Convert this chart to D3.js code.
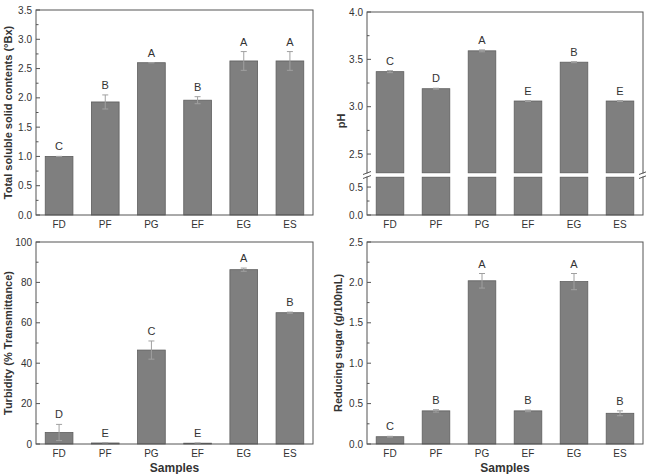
<!DOCTYPE html>
<html>
<head>
<meta charset="utf-8">
<script src="https://cdn.jsdelivr.net/npm/d3@7"></script>
<style>
    body { margin: 0; background: #fff; }
    svg text { font-family: "Liberation Sans", Arial, sans-serif; fill: #333; }
</style>
</head>
<body>
<div id="chart"></div>
<script>
"use strict";

// samples on the x axis (same for every panel)
const samples = ["FD", "PF", "PG", "EF", "EG", "ES"];

// total soluble solids (°Bx)
const tssValues = [1.00, 1.93, 2.60, 1.96, 2.63, 2.63];
const tssErrors = [0.00, 0.12, 0.00, 0.06, 0.16, 0.16];
const tssLetters = ["C", "B", "A", "B", "A", "A"];
const tssTicks = [0, 0.5, 1.0, 1.5, 2.0, 2.5, 3.0, 3.5];

// pH
const phValues = [3.37, 3.19, 3.59, 3.06, 3.47, 3.06];
const phErrors = [0.01, 0.005, 0.01, 0.005, 0.005, 0.005];
const phLetters = ["C", "D", "A", "E", "B", "E"];
const phTicksLow = [0, 0.5];
const phTicksHigh = [2.5, 3.0, 3.5, 4.0];

// turbidity (% transmittance)
const turbValues = [5.7, 0.5, 46.5, 0.4, 86.3, 65.0];
const turbErrors = [4.0, 0.1, 4.5, 0.1, 0.8, 0.3];
const turbLetters = ["D", "E", "C", "E", "A", "B"];
const turbTicks = [0, 20, 40, 60, 80, 100];

// reducing sugar (g/100mL)
const sugarValues = [0.09, 0.41, 2.02, 0.41, 2.01, 0.38];
const sugarErrors = [0.005, 0.015, 0.09, 0.01, 0.10, 0.03];
const sugarLetters = ["C", "B", "A", "B", "A", "B"];
const sugarTicks = [0, 0.5, 1.0, 1.5, 2.0, 2.5];

const barColor = "#7f7f7f";
const barStroke = "#5e5e5e";
const errColor = "#a0a0a0";
const axisColor = "#555";

const svg = d3.select("#chart").append("svg")
    .attr("width", 646)
    .attr("height", 474);

// draw ticks on the left axis, pointing inside the box
function drawTicks(g, y, x0, major, minor, fmt) {
    g.selectAll(null).data(major).enter().append("line")
        .attr("x1", x0).attr("x2", x0 + 4)
        .attr("y1", d => y(d)).attr("y2", d => y(d))
        .attr("stroke", axisColor);
    g.selectAll(null).data(minor).enter().append("line")
        .attr("x1", x0).attr("x2", x0 + 2.5)
        .attr("y1", d => y(d)).attr("y2", d => y(d))
        .attr("stroke", axisColor);
    g.selectAll(null).data(major).enter().append("text")
        .attr("x", x0 - 4)
        .attr("y", d => y(d))
        .attr("dy", "0.35em")
        .attr("text-anchor", "end")
        .style("font-size", "10px")
        .text(fmt);
}

function drawBox(g, box) {
    g.append("rect")
        .attr("x", box.left).attr("y", box.top)
        .attr("width", box.right - box.left)
        .attr("height", box.bottom - box.top)
        .attr("fill", "none")
        .attr("stroke", axisColor)
        .attr("stroke-width", 1);
}

function drawCategories(g, x, box) {
    g.selectAll(null).data(samples).enter().append("text")
        .attr("x", d => x(d) + x.bandwidth() / 2)
        .attr("y", box.bottom + 13)
        .attr("text-anchor", "middle")
        .style("font-size", "10px")
        .text(d => d);
}

function drawYTitle(g, text, xPos, midY) {
    g.append("text")
        .attr("transform", "translate(" + xPos + "," + midY + ") rotate(-90)")
        .attr("text-anchor", "middle")
        .style("font-size", "11px")
        .style("font-weight", "bold")
        .text(text);
}

function drawErrorsAndLetters(g, x, y, values, errors, letters) {
    const cx = i => x(samples[i]) + x.bandwidth() / 2;
    const idx = d3.range(samples.length);
    g.selectAll(null).data(idx).enter().append("line")
        .attr("x1", cx).attr("x2", cx)
        .attr("y1", i => y(values[i] - errors[i]))
        .attr("y2", i => y(values[i] + errors[i]))
        .attr("stroke", errColor);
    ["-", "+"].forEach(sign => {
        g.selectAll(null).data(idx).enter().append("line")
            .attr("x1", i => cx(i) - 3).attr("x2", i => cx(i) + 3)
            .attr("y1", i => y(sign == "+" ? values[i] + errors[i] : values[i] - errors[i]))
            .attr("y2", i => y(sign == "+" ? values[i] + errors[i] : values[i] - errors[i]))
            .attr("stroke", errColor);
    });
    g.selectAll(null).data(idx).enter().append("text")
        .attr("x", cx)
        .attr("y", i => y(values[i] + errors[i]) - 6)
        .attr("text-anchor", "middle")
        .style("font-size", "11px")
        .text(i => letters[i]);
}

// a simple bar panel with a linear y axis
function simplePanel(opts) {
    const box = opts.box;
    const g = svg.append("g");
    const x = d3.scaleBand().domain(samples)
        .range([box.left, box.right]).paddingInner(0.4).paddingOuter(0.2);
    const y = d3.scaleLinear().domain(opts.domain).range([box.bottom, box.top]);

    g.selectAll(null).data(opts.values).enter().append("rect")
        .attr("x", (d, i) => x(samples[i]))
        .attr("y", d => y(d))
        .attr("width", x.bandwidth())
        .attr("height", d => y(0) - y(d))
        .attr("fill", barColor)
        .attr("stroke", barStroke)
        .attr("stroke-width", 0.8);

    drawErrorsAndLetters(g, x, y, opts.values, opts.errors, opts.letters);
    drawBox(g, box);
    const minor = opts.ticks.slice(0, -1).map((t, i) => (t + opts.ticks[i + 1]) / 2);
    drawTicks(g, y, box.left, opts.ticks, minor, opts.fmt);
    drawCategories(g, x, box);
    drawYTitle(g, opts.title, opts.titleX, (box.top + box.bottom) / 2);
    if (opts.xTitle) {
        g.append("text")
            .attr("x", (box.left + box.right) / 2)
            .attr("y", box.bottom + 28)
            .attr("text-anchor", "middle")
            .style("font-size", "12px")
            .style("font-weight", "bold")
            .text("Samples");
    }
}

// the pH panel has a broken y axis
function phPanel() {
    const box = {left: 367, right: 643, top: 12, bottom: 215};
    const gapTop = 173, gapBottom = 177;
    const g = svg.append("g");
    const x = d3.scaleBand().domain(samples)
        .range([box.left, box.right]).paddingInner(0.4).paddingOuter(0.2);
    const yHigh = d3.scaleLinear().domain([2.3, 4.0]).range([gapTop, box.top]);
    const yLow = d3.scaleLinear().domain([0, 0.68]).range([box.bottom, gapBottom]);

    // lower piece of every bar
    g.selectAll(null).data(phValues).enter().append("rect")
        .attr("x", (d, i) => x(samples[i]))
        .attr("y", yLow(0.68))
        .attr("width", x.bandwidth())
        .attr("height", yLow(0) - yLow(0.68))
        .attr("fill", barColor)
        .attr("stroke", barStroke)
        .attr("stroke-width", 0.8);
    // upper piece
    g.selectAll(null).data(phValues).enter().append("rect")
        .attr("x", (d, i) => x(samples[i]))
        .attr("y", d => yHigh(d))
        .attr("width", x.bandwidth())
        .attr("height", d => yHigh(2.3) - yHigh(d))
        .attr("fill", barColor)
        .attr("stroke", barStroke)
        .attr("stroke-width", 0.8);

    drawErrorsAndLetters(g, x, yHigh, phValues, phErrors, phLetters);
    drawBox(g, box);

    // white gap through the box for the break
    g.append("rect")
        .attr("x", box.left - 1).attr("y", gapTop + 0.5)
        .attr("width", box.right - box.left + 2)
        .attr("height", gapBottom - gapTop - 1)
        .attr("fill", "#fff");
    [box.left, box.right].forEach(xb => {
        [gapTop, gapBottom].forEach(yb => {
            g.append("line")
                .attr("x1", xb - 4).attr("x2", xb + 4)
                .attr("y1", yb + 1.5).attr("y2", yb - 1.5)
                .attr("stroke", axisColor);
        });
    });

    drawTicks(g, yHigh, box.left, phTicksHigh, [2.75, 3.25, 3.75], d => d3.format(".1f")(d));
    drawTicks(g, yLow, box.left, phTicksLow, [0.25], d => d3.format(".1f")(d));
    drawCategories(g, x, box);
    drawYTitle(g, "pH", 345, 121);
}

simplePanel({
    box: {left: 36, right: 313, top: 10, bottom: 215},
    domain: [0, 3.5], ticks: tssTicks,
    values: tssValues, errors: tssErrors, letters: tssLetters,
    fmt: d => d3.format(".1f")(d),
    title: "Total soluble solid contents (°Bx)", titleX: 12
});

phPanel();

simplePanel({
    box: {left: 36, right: 313, top: 242, bottom: 444},
    domain: [0, 100], ticks: turbTicks,
    values: turbValues, errors: turbErrors, letters: turbLetters,
    fmt: d => d,
    title: "Turbidity (% Transmittance)", titleX: 12, xTitle: true
});

simplePanel({
    box: {left: 367, right: 643, top: 242, bottom: 444},
    domain: [0, 2.5], ticks: sugarTicks,
    values: sugarValues, errors: sugarErrors, letters: sugarLetters,
    fmt: d => d3.format(".1f")(d),
    title: "Reducing sugar (g/100mL)", titleX: 342, xTitle: true
});
</script>
</body>
</html>
